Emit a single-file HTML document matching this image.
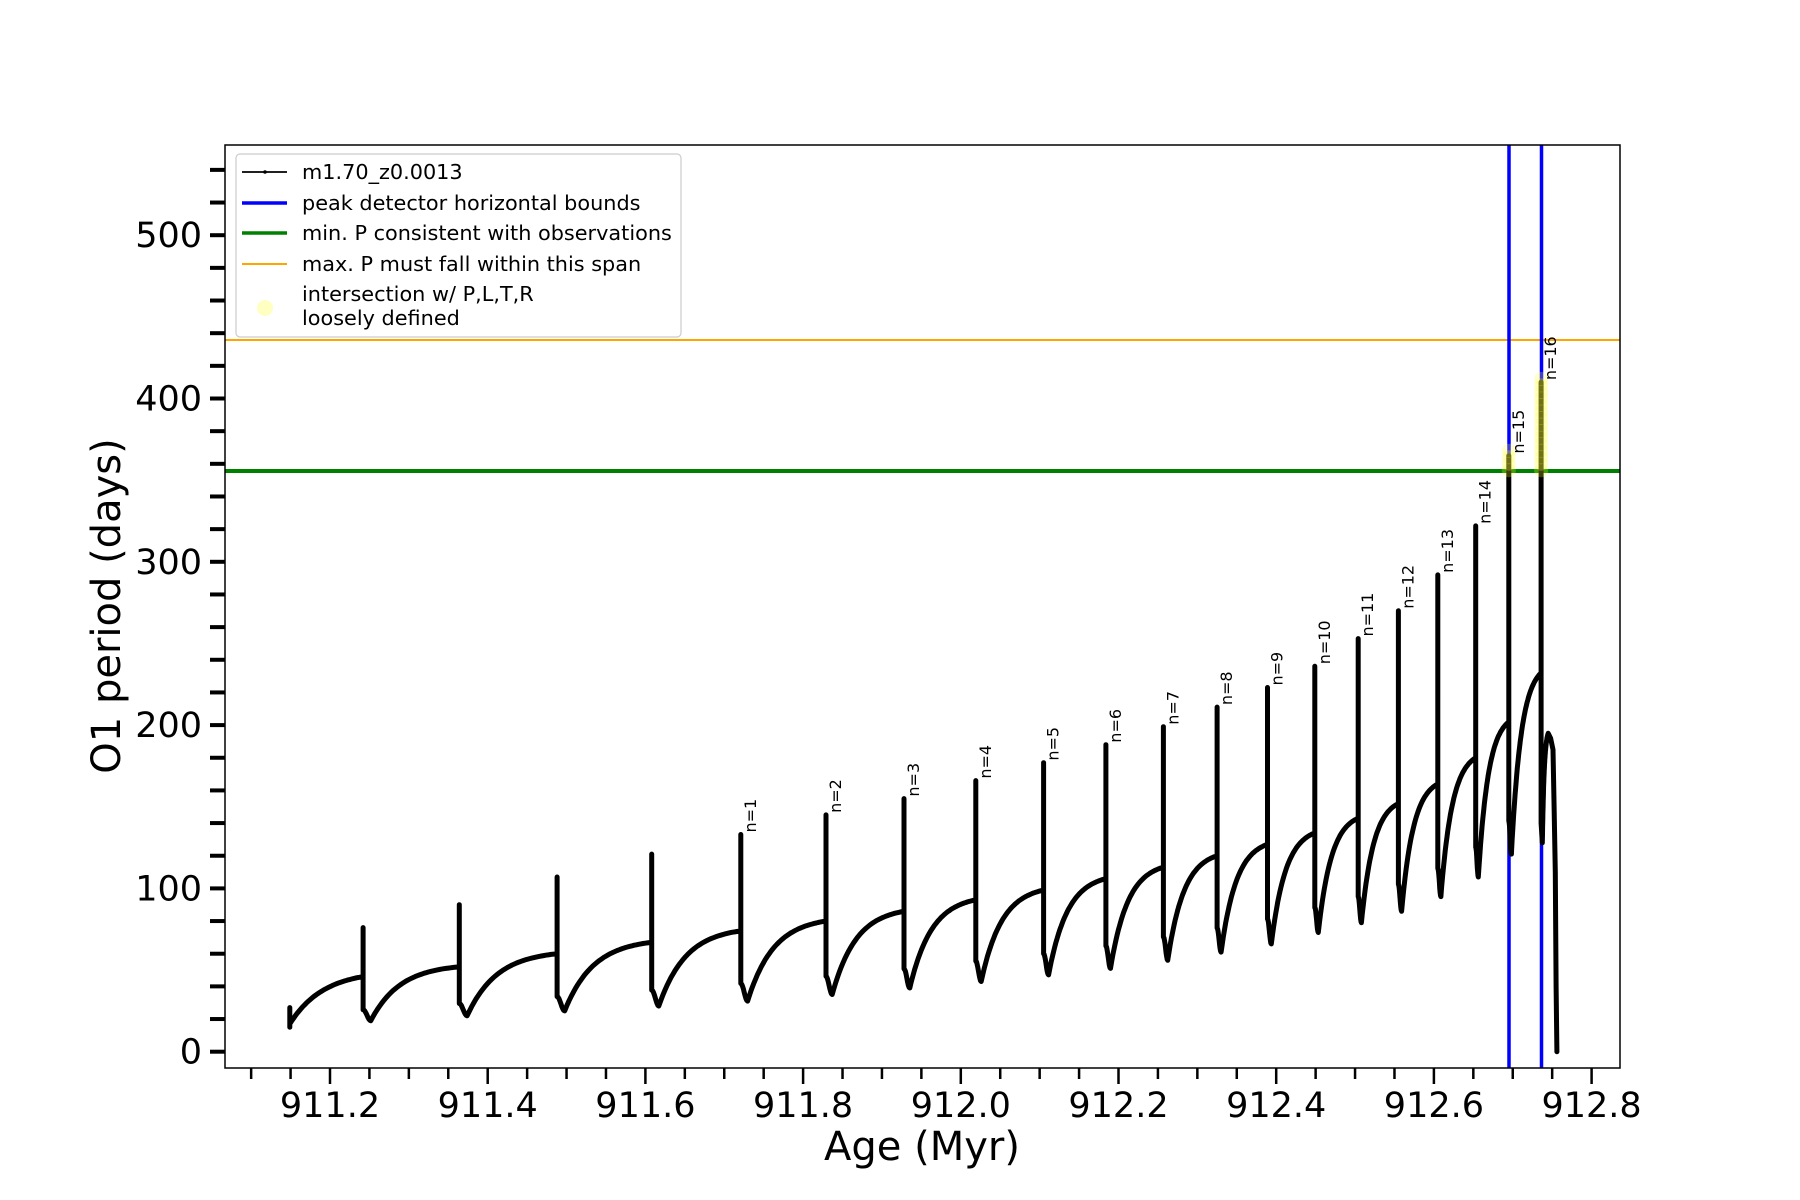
<!DOCTYPE html>
<html><head><meta charset="utf-8"><style>
html,body{margin:0;padding:0;background:#fff;}
svg{display:block;font-family:"DejaVu Sans","Liberation Sans",sans-serif;}
</style></head><body>
<svg id="s" width="1800" height="1200" viewBox="0 0 1800 1200" xmlns="http://www.w3.org/2000/svg">
<defs><clipPath id="c"><rect x="225" y="145" width="1395" height="923"/></clipPath></defs>
<rect width="1800" height="1200" fill="#fff"/>
<g id="ticks"></g>
<g clip-path="url(#c)">
<line x1="225" x2="1620" y1="340" y2="340" stroke="#ffa500" stroke-width="2"/>
<line x1="225" x2="1620" y1="471" y2="471" stroke="#008000" stroke-width="4"/>
<line x1="1509" x2="1509" y1="145" y2="1068" stroke="#0000ff" stroke-width="3.5"/>
<line x1="1541.5" x2="1541.5" y1="145" y2="1068" stroke="#0000ff" stroke-width="3.5"/>
<path id="series" fill="none" stroke="#000" stroke-width="5" stroke-linejoin="round" stroke-linecap="round"/>
<g id="yel"></g>
</g>
<g id="labels" font-size="16"></g>
<rect x="225" y="145" width="1395" height="923" fill="none" stroke="#000" stroke-width="1.5"/>
<rect x="236" y="154" width="445" height="183" rx="4" fill="#fff" fill-opacity="0.85" stroke="#ccc" stroke-width="1.2"/>
<g font-size="20.8" fill="#000">
<line x1="242" x2="287" y1="172" y2="172" stroke="#000" stroke-width="1.8"/><circle cx="265" cy="172" r="1.8"/>
<text x="302" y="179">m1.70_z0.0013</text>
<line x1="242" x2="287" y1="203" y2="203" stroke="#0000ff" stroke-width="3.5"/>
<text x="302" y="210">peak detector horizontal bounds</text>
<line x1="242" x2="287" y1="233" y2="233" stroke="#008000" stroke-width="3.5"/>
<text x="302" y="240">min. P consistent with observations</text>
<line x1="242" x2="287" y1="264" y2="264" stroke="#ffa500" stroke-width="2"/>
<text x="302" y="271">max. P must fall within this span</text>
<ellipse cx="265" cy="308" rx="8" ry="8" fill="#ffff99" fill-opacity="0.6"/>
<text x="302" y="301">intersection w/ P,L,T,R</text>
<text x="302" y="325">loosely defined</text>
</g>
<g font-size="35" fill="#000" id="ytl"></g>
<g font-size="35" fill="#000" id="xtl" text-anchor="middle"></g>
<text x="922" y="1160" font-size="40" text-anchor="middle">Age (Myr)</text>
<text transform="translate(120,606) rotate(-90)" font-size="40" text-anchor="middle">O1 period (days)</text>
</svg>
<script>
var NS="http://www.w3.org/2000/svg";
function X(t){return 330+(t-911.2)/0.2*157.7;}
function Y(v){return 1051.7-1.633*v;}
function el(n,a,p,txt){var e=document.createElementNS(NS,n);for(var k in a)e.setAttribute(k,a[k]);if(txt!=null)e.textContent=txt;p.appendChild(e);return e;}
var tk=document.getElementById('ticks');
for(var v=0;v<=540;v+=20){var y=Y(v);el('line',{x1:210,x2:225,y1:y,y2:y,stroke:'#000','stroke-width':4},tk);}
for(var i=0;i<=34;i++){var t=911.1+i*0.05;var x=X(t);if(x>1620)break;var m=Math.round((t-911.2)/0.05);var maj=(m%4===0);el('line',{x1:x,x2:x,y1:1068,y2:maj?1084:1079,stroke:'#000','stroke-width':2.5},tk);}
var ytl=document.getElementById('ytl');
for(var v=0;v<=500;v+=100){el('text',{x:202,y:Y(v)+12,'text-anchor':'end'},ytl,String(v));}
var xtl=document.getElementById('xtl');
var xl=['911.2','911.4','911.6','911.8','912.0','912.2','912.4','912.6','912.8'];
for(var i=0;i<9;i++){el('text',{x:X(911.2+0.2*i),y:1117},xtl,xl[i]);}
var P=[[911.242,46,76,19],[911.364,52,90,22],[911.488,60,107,25],[911.608,67,121,28],[911.721,74,133,31],[911.829,80,145,35],[911.928,86,155,39],[912.019,93,166,43],[912.105,99,177,47],[912.184,106,188,51],[912.257,113,199,56],[912.325,120,211,61],[912.389,127,223,66],[912.449,134,236,73],[912.504,143,253,79],[912.555,152,270,86],[912.605,164,292,95],[912.653,180,322,107],[912.695,202,365,121],[912.736,232,410,128]];
var d="";function L(t,v){d+=(d?"L":"M")+X(t).toFixed(1)+","+Y(v).toFixed(1);}
L(911.149,15);L(911.149,27);L(911.149,18);
function rise(t0,t1,mn,pl,k){var N=40;for(var j=0;j<=N;j++){var u=j/N;var f=(1-Math.exp(-k*u))/(1-Math.exp(-k));L(t0+(t1-t0)*u,mn+(pl-mn)*f);}}
rise(911.149,911.242,17,46,2.2);
for(var i=0;i<P.length;i++){var p=P[i];var t=p[0];L(t,p[1]);L(t,p[2]);var mn=p[3];
 if(i<P.length-1){var q=P[i+1];var dt=q[0]-t;var drop=mn+0.25*(p[1]-mn);L(t,drop);
  var tm=t+0.08*dt;for(var j=1;j<=8;j++){var u=j/8;L(t+(tm-t)*u,drop+(mn-drop)*(1-Math.cos(Math.PI*u))/2);}
  rise(tm,q[0],mn,q[1],3);}
}
L(912.736,140);L(912.7375,128);rise(912.7375,912.745,128,195,3);L(912.748,192);L(912.751,185);L(912.7525,150);L(912.754,110);L(912.755,40);L(912.756,0);
document.getElementById('series').setAttribute('d',d);
var lab=document.getElementById('labels');
for(var i=4;i<P.length;i++){var n=i-3;var x=X(P[i][0])+15;var y=Y(P[i][2])-2;el('text',{transform:'translate('+x+','+y+') rotate(-90)'},lab,'n='+n);}
var yl=document.getElementById('yel');
function yb(x,v0,v1){for(var v=v0;v<=v1;v+=4){el('ellipse',{cx:x,cy:Y(v),rx:7,ry:7,fill:'#ffff33','fill-opacity':0.25},yl);}}
yb(X(912.695),356,368);yb(X(912.736),356,412);
</script>
</body></html>
